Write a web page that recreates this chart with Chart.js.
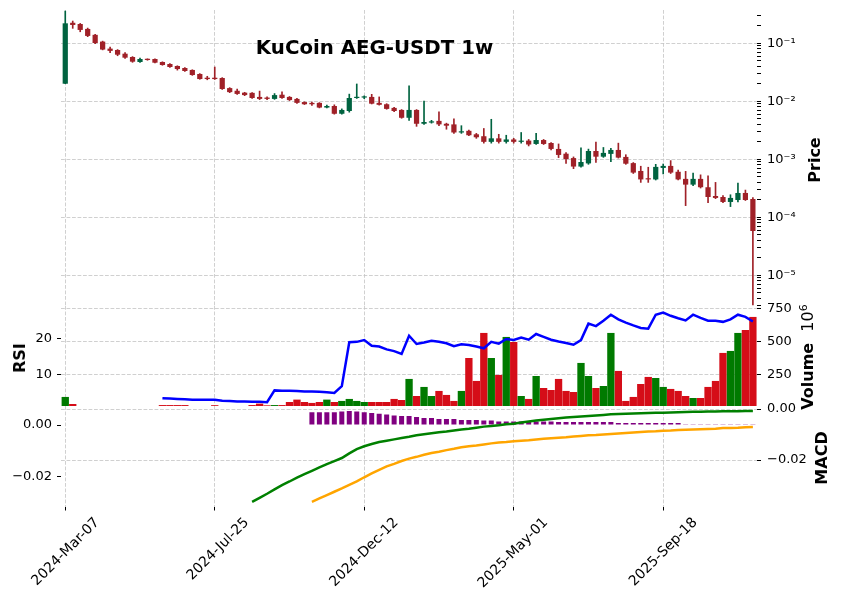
<!DOCTYPE html>
<html>
<head>
<meta charset="utf-8">
<script src="https://cdn.jsdelivr.net/npm/chart.js@4.4.1/dist/chart.umd.min.js"></script>
<style>
  body { margin:0; background:#fff; }
  #wrap { position:relative; width:841px; height:600px; overflow:hidden; font-family:"DejaVu Sans", sans-serif; color:#000; }
  canvas { position:absolute; left:0; }
  .lbl { position:absolute; transform:translate(-50%,-50%) rotate(-90deg); white-space:nowrap; font-weight:bold; font-size:16px; line-height:16px; }
  #title { position:absolute; left:374.5px; top:47px; transform:translate(-50%,-50%); font-weight:bold; font-size:19.8px; white-space:nowrap; }
</style>
</head>
<body>
<div id="wrap">
  <canvas id="cPrice" width="841" height="306" style="top:0"></canvas>
  <canvas id="cRsi" width="841" height="116" style="top:290px"></canvas>
  <canvas id="cMacd" width="841" height="210" style="top:390px"></canvas>
  <div id="title">KuCoin AEG-USDT 1w</div>
  <div class="lbl" style="left:815px;top:160px">Price</div>
  <div class="lbl" style="left:20px;top:358px">RSI</div>
  <div class="lbl" style="left:806px;top:357px">Volume&nbsp;&nbsp;<span style="font-weight:normal">10<sup style="font-size:11px">6</sup></span></div>
  <div class="lbl" style="left:822px;top:458px">MACD</div>
</div>
<script>
// weekly candles, index 0 = 2024-03-07
const tickIdx    = [0, 20, 40, 60, 80];
const tickLabels = ['2024-Mar-07', '2024-Jul-25', '2024-Dec-12', '2025-May-01', '2025-Sep-18'];

const opens = [0.0201,0.226,0.215,0.177,0.14,0.107,0.081,0.0766,0.0662,0.058,
  0.0476,0.0536,0.0536,0.0476,0.044,0.0406,0.0375,0.0347,0.0296,0.0255,
  0.0255,0.0252,0.0169,0.0152,0.0141,0.014,0.0119,0.0116,0.011,0.013,
  0.0119,0.011,0.0097,0.0094,0.0094,0.0078,0.0083,0.0061,0.0068,0.0114,
  0.0116,0.0119,0.0094,0.0089,0.0077,0.0071,0.0052,0.0071,0.0041,0.0043,
  0.0046,0.0041,0.004,0.0029,0.0031,0.0027,0.0025,0.002,0.0023,0.002,
  0.0022,0.002,0.0021,0.00184,0.00215,0.00191,0.00151,0.00125,0.00105,0.00075,
  0.00085,0.00139,0.00111,0.00124,0.00145,0.0011,0.00086,0.00063,0.00046,0.00045,
  0.00071,0.00077,0.00061,0.00046,0.000366,0.00046,0.00033,0.000233,0.000224,0.000184,
  0.000199,0.000263,0.000207];
const highs = [0.36,0.242,0.22,0.183,0.143,0.109,0.086,0.078,0.069,0.059,
  0.0558,0.054,0.054,0.048,0.0445,0.041,0.038,0.035,0.030,0.027,
  0.039,0.0256,0.0172,0.0162,0.0143,0.0142,0.015,0.0119,0.0136,0.0145,
  0.0121,0.0112,0.0098,0.0097,0.0095,0.0086,0.0087,0.0074,0.0133,0.0199,
  0.0124,0.0132,0.0119,0.0091,0.0079,0.0072,0.0184,0.0072,0.0101,0.0047,
  0.0066,0.0042,0.005,0.0038,0.0032,0.0028,0.0034,0.0049,0.0027,0.0026,
  0.0023,0.0029,0.0022,0.0028,0.0022,0.00195,0.00184,0.0013,0.0011,0.00157,
  0.0015,0.00199,0.0016,0.00155,0.0019,0.0012,0.00088,0.00076,0.00073,0.00082,
  0.00083,0.00095,0.00065,0.00062,0.00058,0.00054,0.00052,0.0004,0.000236,0.000245,
  0.00039,0.000295,0.00022];
const lows = [0.0201,0.181,0.158,0.13,0.099,0.077,0.069,0.061,0.055,0.047,
  0.047,0.051,0.046,0.0418,0.0385,0.0345,0.0328,0.028,0.024,0.0235,
  0.0238,0.016,0.0141,0.0132,0.0125,0.0112,0.0107,0.0107,0.0108,0.0112,
  0.0103,0.0092,0.0088,0.0085,0.0077,0.0077,0.006,0.006,0.0065,0.0112,
  0.0111,0.009,0.0086,0.0073,0.0066,0.0051,0.0047,0.0037,0.004,0.0042,
  0.0038,0.0033,0.0028,0.0028,0.00255,0.0023,0.0019,0.0019,0.0019,0.0019,
  0.0019,0.0019,0.0017,0.0018,0.0018,0.00145,0.00107,0.00085,0.00069,0.00073,
  0.00082,0.00088,0.00108,0.00091,0.00105,0.00082,0.00057,0.0004,0.0004,0.00044,
  0.00056,0.00057,0.00044,0.000159,0.00035,0.00032,0.000179,0.00021,0.000179,0.000153,
  0.000185,0.000195,0.00000308];
const closes = [0.221,0.207,0.17,0.134,0.101,0.078,0.074,0.0636,0.0565,0.0482,
  0.0536,0.0516,0.0463,0.0423,0.039,0.036,0.0333,0.0284,0.0242,0.0242,
  0.0242,0.0163,0.0144,0.0134,0.0128,0.0114,0.011,0.011,0.0128,0.0114,
  0.0105,0.0094,0.0089,0.0089,0.0078,0.0083,0.0061,0.0071,0.0114,0.0119,
  0.0119,0.0091,0.0087,0.0074,0.0068,0.0052,0.0071,0.0041,0.0044,0.0045,
  0.004,0.0038,0.0029,0.003,0.0026,0.0024,0.002,0.0023,0.002,0.0022,
  0.002,0.0021,0.0018,0.00215,0.00184,0.00151,0.00119,0.00101,0.00075,0.0009,
  0.00139,0.00111,0.00129,0.00145,0.00107,0.00084,0.00059,0.00045,0.00045,0.00074,
  0.00077,0.00059,0.00045,0.000366,0.00046,0.00033,0.000224,0.000216,0.000184,0.000216,
  0.000263,0.000199,0.0000581];

// volume in millions
const volumes = [85,32,0,0,0,0,0,0,0,0,
  0,0,0,24,24,24,24,0,0,0,
  23,0,0,0,0,24,35,22,24,24,
  47,65,47,40,47,65,47,55,70,55,
  47,47,47,47,70,62,220,92,160,92,
  130,100,55,130,377,205,565,377,250,535,
  497,92,70,242,152,137,220,130,122,340,
  242,152,167,565,280,55,85,182,235,227,
  160,145,130,92,77,77,160,205,415,430,
  565,587,685];

const rsi = [null,null,null,null,null,null,null,null,null,null,
  null,null,null,3.4,3.3,3.2,3.1,3.0,3.0,3.0,
  3.0,2.7,2.6,2.5,2.5,2.4,2.4,2.3,5.6,5.5,
  5.5,5.4,5.3,5.3,5.2,5.1,4.9,6.8,19.1,19.2,
  19.7,18.1,17.9,17.1,16.6,15.8,20.9,18.6,19.0,19.5,
  19.2,18.8,18.0,18.5,18.3,17.9,17.4,19.2,18.7,20.0,
  19.7,20.4,19.8,21.4,20.6,19.8,19.3,18.9,18.4,19.7,
  24.3,23.6,25.1,26.8,25.5,24.6,23.8,23.1,22.9,26.8,
  27.4,26.5,25.8,25.2,26.8,25.9,25.1,25.1,24.8,25.5,
  26.8,26.2,24.9];

const macd = [null,null,null,null,null,null,null,null,null,null,
  null,null,null,null,null,null,null,null,null,null,
  null,null,null,null,null,-0.0364,-0.0348,-0.0332,-0.0315,-0.0298,
  -0.0284,-0.0269,-0.0255,-0.0242,-0.0229,-0.0216,-0.0204,-0.0192,-0.0174,-0.0157,
  -0.0146,-0.0137,-0.0129,-0.0124,-0.0119,-0.0114,-0.0109,-0.0103,-0.0099,-0.0095,
  -0.0091,-0.0088,-0.0084,-0.0080,-0.0077,-0.0073,-0.0069,-0.0067,-0.0064,-0.0060,
  -0.0058,-0.0053,-0.0049,-0.0045,-0.0042,-0.0039,-0.0036,-0.0033,-0.0031,-0.0029,
  -0.0027,-0.0025,-0.0023,-0.0021,-0.0020,-0.0019,-0.0018,-0.0017,-0.0016,-0.0015,
  -0.00145,-0.0014,-0.0013,-0.0012,-0.0011,-0.00105,-0.0010,-0.00095,-0.0009,-0.0009,
  -0.00085,-0.0008,-0.0008];

const signal = [null,null,null,null,null,null,null,null,null,null,
  null,null,null,null,null,null,null,null,null,null,
  null,null,null,null,null,null,null,null,null,null,
  null,null,null,-0.0297,-0.0284,-0.0271,-0.0258,-0.0245,-0.0231,-0.0218,
  -0.0202,-0.0187,-0.0173,-0.0160,-0.0150,-0.0139,-0.0130,-0.0123,-0.0115,-0.0108,
  -0.0103,-0.0097,-0.0092,-0.0086,-0.0082,-0.0079,-0.0075,-0.0071,-0.0068,-0.0066,
  -0.0063,-0.0061,-0.0059,-0.0056,-0.0053,-0.0051,-0.0049,-0.0047,-0.0044,-0.0042,
  -0.0040,-0.0039,-0.0037,-0.0035,-0.0033,-0.0031,-0.0029,-0.0027,-0.0025,-0.0024,
  -0.0022,-0.0021,-0.0019,-0.0018,-0.0017,-0.0016,-0.0015,-0.0014,-0.0012,-0.0012,
  -0.0011,-0.0009,-0.0008];

const hist = [null,null,null,null,null,null,null,null,null,null,
  null,null,null,null,null,null,null,null,null,null,
  null,null,null,null,null,null,null,null,null,null,
  null,null,null,0.0049,0.0049,0.0049,0.0049,0.0052,0.0054,0.0052,
  0.0049,0.0046,0.0044,0.0041,0.0037,0.0035,0.0035,0.0031,0.0027,0.0027,
  0.0023,0.0023,0.0023,0.0019,0.0019,0.0019,0.0017,0.0017,0.0014,0.0014,
  0.0014,0.0014,0.0014,0.0014,0.0014,0.0014,0.0012,0.0012,0.0012,0.0012,
  0.0012,0.0012,0.0012,0.0012,0.0008,0.0008,0.0008,0.0008,0.0008,0.0008,
  0.0008,0.0008,0.0008,0.0003,0.0003,0.0003,0.0003,0.0003,0.0003,0.0003,
  0.0003,0.0003,0.0003];

const priceTicks      = [1e-5, 1e-4, 1e-3, 1e-2, 1e-1];
const priceTickLabels = ['10⁻⁵', '10⁻⁴', '10⁻³', '10⁻²', '10⁻¹'];
const rsiTicks  = [10, 20];
const volTicks  = [250, 500, 750];
const macdTicks = [0, -0.02];

const UP = '#006340', DOWN = '#a02128';
const VUP = '#007a00', VDOWN = '#d50d18';
const GRID = '#c4c4c4';
const X_MIN = -0.57, X_MAX = 92.55;

Chart.defaults.font.family = "'DejaVu Sans', sans-serif";
Chart.defaults.font.size = 13;
Chart.defaults.color = '#000';
Chart.defaults.animation = false;
Chart.defaults.plugins.legend.display = false;
Chart.defaults.plugins.tooltip.enabled = false;

const idx = opens.map((_, i) => i);
const up = idx.map(i => closes[i] >= opens[i]);
const pts = arr => arr.map((v, i) => ({ x: i, y: v })).filter(p => p.y !== null);
const minusFmt = v => v.toFixed(2).replace('-', '\u2212');
const setTicks = vals => s => { s.ticks = vals.map(v => ({ value: v })); };
const fixW = w => s => { s.width = w; s.paddingTop = 0; s.paddingBottom = 0; };
const isMajor = v => priceTicks.some(p => Math.abs(v / p - 1) < 1e-9);

function xAxis(labels) {
  return {
    type: 'linear', min: X_MIN, max: X_MAX, offset: false, bounds: 'data',
    afterBuildTicks: setTicks(tickIdx),
    afterFit: s => { s.height = labels ? 93.5 : 0; s.paddingLeft = 0; s.paddingRight = 0; },
    border: { display: false, dash: [3.8, 1.7] },
    grid: { offset: false, color: GRID, lineWidth: 0.8, drawTicks: labels, tickLength: 4, tickColor: '#000', tickWidth: 1 },
    ticks: { display: labels, autoSkip: false, minRotation: 45, maxRotation: 45, labelOffset: 32, padding: 4,
      font: { size: 14 }, callback: v => tickLabels[tickIdx.indexOf(v)] }
  };
}

function yAxis(position, min, max, vals, fmt, gridOn, width) {
  return {
    type: 'linear', position, min, max, bounds: 'data', beginAtZero: false,
    afterBuildTicks: setTicks(vals),
    afterFit: fixW(width),
    border: { display: false, dash: [3.8, 1.7] },
    grid: { drawOnChartArea: gridOn, color: GRID, lineWidth: 0.8, tickLength: 4, tickColor: '#000', tickWidth: 1 },
    ticks: { padding: position === 'left' ? 5 : 6, callback: fmt }
  };
}

// price panel
new Chart(document.getElementById('cPrice'), {
  type: 'bar',
  data: {
    datasets: [
      { data: idx.map(i => ({ x: i, y: [lows[i], highs[i]] })), backgroundColor: idx.map(i => up[i] ? UP : DOWN),
        barThickness: 1, grouped: false },
      { data: idx.map(i => ({ x: i, y: [Math.min(opens[i], closes[i]), Math.max(opens[i], closes[i])] })),
        backgroundColor: idx.map(i => up[i] ? UP : DOWN),
        barPercentage: 0.7, categoryPercentage: 1, grouped: false, minBarLength: 1.2 }
    ]
  },
  options: {
    responsive: false, devicePixelRatio: 1,
    layout: { padding: { top: 10, left: 61, right: 0, bottom: 0 } },
    scales: {
      x: xAxis(false),
      y: {
        type: 'logarithmic', position: 'right', min: 2.96e-6, max: 0.375, bounds: 'data',
        afterBuildTicks: s => {
          const t = [];
          for (let e = -6; e <= -1; e++) for (let d = 1; d <= 9; d++) {
            const v = d * Math.pow(10, e);
            if (v >= s.min && v <= s.max) t.push({ value: v });
          }
          s.ticks = t;
        },
        afterFit: fixW(84),
        border: { display: false, dash: [3.8, 1.7] },
        grid: { color: c => isMajor(c.tick.value) ? GRID : 'rgba(0,0,0,0)', lineWidth: 0.8,
          tickLength: 4, tickColor: '#000', tickWidth: 1 },
        ticks: { padding: 6, autoSkip: false,
          callback: v => { const k = priceTicks.findIndex(p => Math.abs(v / p - 1) < 1e-9); return k >= 0 ? priceTickLabels[k] : ''; } }
      }
    }
  }
});

// RSI + volume panel
new Chart(document.getElementById('cRsi'), {
  type: 'bar',
  data: {
    datasets: [
      { type: 'line', data: pts(rsi), yAxisID: 'yR', borderColor: '#0000ff', borderWidth: 2.5,
        pointRadius: 0, tension: 0, order: 0 },
      { data: pts(volumes.map(v => v > 0 ? v : null)), yAxisID: 'yV',
        backgroundColor: idx.filter(i => volumes[i] > 0).map(i => up[i] ? VUP : VDOWN),
        barPercentage: 0.98, categoryPercentage: 1, order: 1 }
    ]
  },
  options: {
    responsive: false, devicePixelRatio: 1,
    layout: { padding: { top: 16, left: 0, right: 0, bottom: 0 } },
    scales: {
      x: xAxis(false),
      yR: yAxis('left', 1.23, 29.24, rsiTicks, v => String(v), false, 61),
      yV: yAxis('right', 17, 767, volTicks, v => String(v), true, 84)
    }
  }
});

// MACD panel
new Chart(document.getElementById('cMacd'), {
  type: 'bar',
  data: {
    datasets: [
      { type: 'line', data: pts(macd), yAxisID: 'yMr', borderColor: '#008000', borderWidth: 2.5,
        pointRadius: 0, tension: 0, order: 0 },
      { type: 'line', data: pts(signal), yAxisID: 'yMl', borderColor: '#ffa500', borderWidth: 2.5,
        pointRadius: 0, tension: 0, order: 0 },
      { data: pts(hist), yAxisID: 'yMl', backgroundColor: '#800080',
        barPercentage: 0.67, categoryPercentage: 1, order: 2 }
    ]
  },
  options: {
    responsive: false, devicePixelRatio: 1,
    layout: { padding: { top: 16, left: 0, right: 0, bottom: 0 } },
    scales: {
      x: xAxis(true),
      yMl: yAxis('left', -0.0315, 0.00735, macdTicks, minusFmt, false, 61),
      yMr: yAxis('right', -0.0382, 0.00118, macdTicks, minusFmt, true, 84)
    }
  }
});
</script>
</body>
</html>
